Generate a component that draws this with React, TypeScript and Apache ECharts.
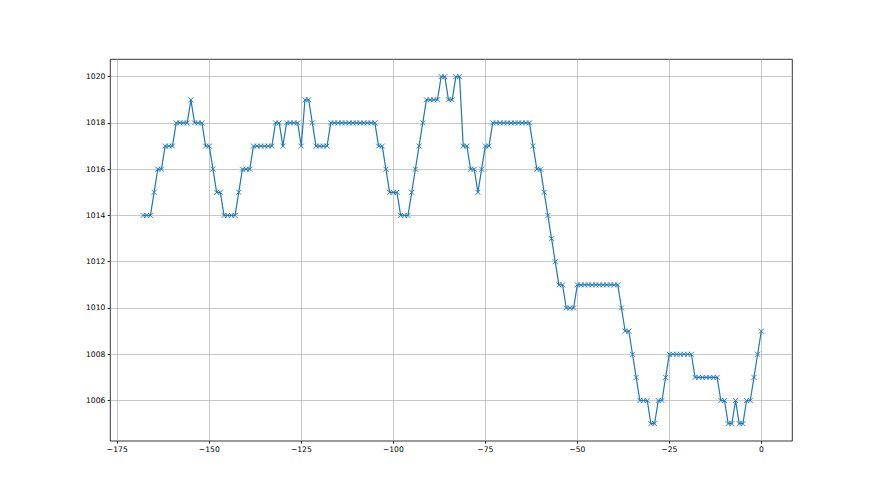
import React, { useEffect, useRef } from 'react';
import * as echarts from 'echarts';

// hours relative to now
const hours = [
  -168, -167, -166, -165, -164, -163, -162, -161, -160, -159, -158, -157, -156, -155, -154, -153, -152, -151, -150, -149,
  -148, -147, -146, -145, -144, -143, -142, -141, -140, -139, -138, -137, -136, -135, -134, -133, -132, -131, -130, -129,
  -128, -127, -126, -125, -124, -123, -122, -121, -120, -119, -118, -117, -116, -115, -114, -113, -112, -111, -110, -109,
  -108, -107, -106, -105, -104, -103, -102, -101, -100, -99, -98, -97, -96, -95, -94, -93, -92, -91, -90, -89,
  -88, -87, -86, -85, -84, -83, -82, -81, -80, -79, -78, -77, -76, -75, -74, -73, -72, -71, -70, -69,
  -68, -67, -66, -65, -64, -63, -62, -61, -60, -59, -58, -57, -56, -55, -54, -53, -52, -51, -50, -49,
  -48, -47, -46, -45, -44, -43, -42, -41, -40, -39, -38, -37, -36, -35, -34, -33, -32, -31, -30, -29,
  -28, -27, -26, -25, -24, -23, -22, -21, -20, -19, -18, -17, -16, -15, -14, -13, -12, -11, -10, -9,
  -8, -7, -6, -5, -4, -3, -2, -1, 0,
];

// pressure (hPa)
const pressure = [
  1014, 1014, 1014, 1015, 1016, 1016, 1017, 1017, 1017, 1018, 1018, 1018, 1018, 1019, 1018, 1018, 1018, 1017, 1017, 1016,
  1015, 1015, 1014, 1014, 1014, 1014, 1015, 1016, 1016, 1016, 1017, 1017, 1017, 1017, 1017, 1017, 1018, 1018, 1017, 1018,
  1018, 1018, 1018, 1017, 1019, 1019, 1018, 1017, 1017, 1017, 1017, 1018, 1018, 1018, 1018, 1018, 1018, 1018, 1018, 1018,
  1018, 1018, 1018, 1018, 1017, 1017, 1016, 1015, 1015, 1015, 1014, 1014, 1014, 1015, 1016, 1017, 1018, 1019, 1019, 1019,
  1019, 1020, 1020, 1019, 1019, 1020, 1020, 1017, 1017, 1016, 1016, 1015, 1016, 1017, 1017, 1018, 1018, 1018, 1018, 1018,
  1018, 1018, 1018, 1018, 1018, 1018, 1017, 1016, 1016, 1015, 1014, 1013, 1012, 1011, 1011, 1010, 1010, 1010, 1011, 1011,
  1011, 1011, 1011, 1011, 1011, 1011, 1011, 1011, 1011, 1011, 1010, 1009, 1009, 1008, 1007, 1006, 1006, 1006, 1005, 1005,
  1006, 1006, 1007, 1008, 1008, 1008, 1008, 1008, 1008, 1008, 1007, 1007, 1007, 1007, 1007, 1007, 1007, 1006, 1006, 1005,
  1005, 1006, 1005, 1005, 1006, 1006, 1007, 1008, 1009,
];

const xTicks = [-175, -150, -125, -100, -75, -50, -25, 0];
const yTicks = [1006, 1008, 1010, 1012, 1014, 1016, 1018, 1020];

const fmt = (v: number) => (v < 0 ? '\u2212' + Math.abs(v) : String(v));

export default function App() {
  const ref = useRef<HTMLDivElement>(null);
  useEffect(() => {
    const chart = echarts.init(ref.current!, null, { renderer: 'svg' });
    const data = hours.map((h, i) => [h, pressure[i]]);
    const tickStyle = { color: '#000', width: 0.8 };
    const labelStyle = { fontSize: 7.6, color: '#000', fontFamily: 'DejaVu Sans' };
    chart.setOption({
      animation: false,
      backgroundColor: '#ffffff',
      grid: {
        left: 110.3,
        right: 87.7,
        top: 59.3,
        bottom: 54,
        show: true,
        borderColor: '#000',
        borderWidth: 0.8,
        backgroundColor: 'transparent',
      },
      xAxis: {
        type: 'value',
        min: -176.9,
        max: 8.42,
        axisLine: { show: false, onZero: false },
        axisTick: { show: true, customValues: xTicks, length: 2.7, lineStyle: tickStyle },
        axisLabel: { customValues: xTicks, formatter: fmt, margin: 4, ...labelStyle },
        splitLine: { show: true, lineStyle: { color: '#b0b0b0', width: 0.7 } },
      },
      yAxis: {
        type: 'value',
        min: 1004.25,
        max: 1020.75,
        axisLine: { show: false, onZero: false },
        axisTick: { show: true, customValues: yTicks, length: 2.7, lineStyle: tickStyle },
        axisLabel: { customValues: yTicks, formatter: fmt, margin: 5, ...labelStyle },
        splitLine: { show: true, lineStyle: { color: '#b0b0b0', width: 0.7 } },
      },
      series: [
        {
          type: 'line',
          data,
          showSymbol: true,
          showAllSymbol: true,
          symbol: 'path://M0,0L10,10M10,0L0,10',
          symbolSize: 5,
          itemStyle: { color: '#1f77b4', borderColor: '#1f77b4', borderWidth: 0.9 },
          lineStyle: { color: '#1f77b4', width: 1.2 },
          z: 3,
        },
      ],
    });
    return () => chart.dispose();
  }, []);
  return (
    <div
      ref={ref}
      style={{ position: 'absolute', left: 0, top: 0, width: 880, height: 495 }}
    />
  );
}
